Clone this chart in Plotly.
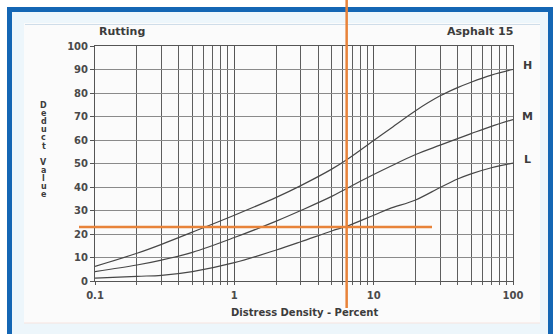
import plotly.graph_objects as go

# Distress density (percent) and deduct values for the three severity levels
density = [0.1, 0.2, 0.3, 0.5, 1, 2, 3, 5, 6.4, 10, 13, 20, 30, 40, 50, 70, 100]
high = [6.2, 11.8, 15.6, 20.8, 28.0, 35.6, 40.6, 47.6, 51.6, 59.8, 64.6, 72.5, 78.8, 82.3, 84.6, 87.6, 90.0]
medium = [4.0, 6.8, 8.9, 12.2, 18.5, 25.5, 30.0, 36.0, 39.4, 45.3, 48.6, 53.8, 57.8, 60.6, 62.7, 65.8, 68.7]
low = [1.2, 2.0, 2.4, 4.0, 7.8, 13.2, 16.7, 21.3, 23.3, 28.0, 30.8, 34.5, 39.8, 43.4, 45.6, 48.2, 50.2]
severity_labels = ["H", "M", "L"]

# Worked example read-off: density and resulting deduct value
pick_density = 6.4
pick_deduct = 23

x_ticks = [0.1, 1, 10, 100]
x_tick_text = ["0.1", "1", "10", "100"]
x_minor = [m * d for d in (0.1, 1, 10) for m in range(2, 10)]

W, H = 553, 334
L_M, R_M, T_M, B_M = 95, 40, 46, 53
PW, PH = W - L_M - R_M, H - T_M - B_M


def px_x(px):
    return (px - L_M) / PW


def px_y(py):
    return (H - B_M - py) / PH


TXT = "#3c3c3c"
FONT = "DejaVu Sans"
CURVE = "#474747"
ORANGE = "#e8833a"
BLUE = "#1466b4"

fig = go.Figure()
for ys in (high, medium, low):
    fig.add_trace(go.Scatter(
        x=density, y=ys, mode="lines",
        line=dict(color=CURVE, width=1.2, shape="spline", smoothing=1.0),
        showlegend=False, hoverinfo="skip",
    ))

shapes = [
    # light tinted area inside the frame
    dict(type="rect", xref="paper", yref="paper", x0=px_x(12), x1=px_x(548),
         y0=px_y(334), y1=px_y(12), fillcolor="#edf6fb", line=dict(width=0), layer="below"),
    # inner sheet
    dict(type="rect", xref="paper", yref="paper", x0=px_x(24), x1=px_x(540),
         y0=px_y(323), y1=px_y(23), fillcolor="#fbfbfb", line=dict(width=0), layer="below"),
    dict(type="line", xref="paper", yref="paper", x0=px_x(25), x1=px_x(540),
         y0=px_y(24.5), y1=px_y(24.5), line=dict(color="#cfdde9", width=1), layer="below"),
    dict(type="line", xref="paper", yref="paper", x0=px_x(24), x1=px_x(540),
         y0=px_y(323), y1=px_y(323), line=dict(color="#f6e3df", width=1), layer="below"),
    # blue frame
    dict(type="rect", xref="paper", yref="paper", x0=px_x(7), x1=px_x(553),
         y0=px_y(12), y1=px_y(7), fillcolor=BLUE, line=dict(width=0)),
    dict(type="rect", xref="paper", yref="paper", x0=px_x(7), x1=px_x(12),
         y0=px_y(334), y1=px_y(7), fillcolor=BLUE, line=dict(width=0)),
    dict(type="rect", xref="paper", yref="paper", x0=px_x(548), x1=px_x(553),
         y0=px_y(334), y1=px_y(7), fillcolor=BLUE, line=dict(width=0)),
    # orange read-off lines
    dict(type="line", xref="x", yref="paper", x0=pick_density, x1=pick_density,
         y0=px_y(308), y1=px_y(0), line=dict(color=ORANGE, width=2.5)),
    dict(type="line", xref="paper", yref="y", x0=px_x(79), x1=px_x(432),
         y0=pick_deduct, y1=pick_deduct, line=dict(color=ORANGE, width=2.5)),
]

annotations = [
    dict(text="<b>Rutting</b>", xref="paper", yref="paper", x=px_x(97), y=px_y(31),
         xanchor="left", yanchor="middle", showarrow=False, font=dict(family=FONT, size=11, color=TXT)),
    dict(text="<b>Asphalt 15</b>", xref="paper", yref="paper", x=px_x(515), y=px_y(31),
         xanchor="right", yanchor="middle", showarrow=False, font=dict(family=FONT, size=11, color=TXT)),
    dict(text="<b>Distress Density - Percent</b>", xref="paper", yref="paper", x=px_x(304), y=px_y(312),
         xanchor="center", yanchor="middle", showarrow=False, font=dict(family=FONT, size=10, color=TXT)),
]

# severity labels at the right end of each curve
for lab, ys in zip(severity_labels, (high, medium, low)):
    annotations.append(dict(
        text="<b>%s</b>" % lab, xref="paper", yref="y", x=px_x(527), y=ys[-1] + 1.5,
        xanchor="center", yanchor="middle", showarrow=False,
        font=dict(family=FONT, size=11, color=TXT)))

# stacked vertical axis title
for word, top in (("Deduct", 105), ("Value", 162)):
    for i, ch in enumerate(word):
        annotations.append(dict(
            text="<b>%s</b>" % ch, xref="paper", yref="paper", x=px_x(43.5), y=px_y(top + 8.2 * i),
            xanchor="center", yanchor="middle", showarrow=False,
            font=dict(family=FONT, size=8, color=TXT)))

fig.update_layout(
    width=W, height=H,
    margin=dict(l=L_M, r=R_M, t=T_M, b=B_M),
    paper_bgcolor="white", plot_bgcolor="rgba(0,0,0,0)",
    shapes=shapes, annotations=annotations,
    xaxis=dict(
        type="log", range=[-1, 2], tickvals=x_ticks, ticktext=x_tick_text,
        showgrid=True, gridcolor="#555555", gridwidth=1,
        minor=dict(tickvals=x_minor, showgrid=True, gridcolor="#5e5e5e", gridwidth=1,
                   ticks="outside", ticklen=3, tickcolor="#5e5e5e"),
        showline=True, linecolor="#555555", linewidth=1, mirror=True,
        ticks="outside", ticklen=3, tickcolor="#555555", ticklabelstandoff=2, zeroline=False,
        tickfont=dict(family=FONT, size=10, color="#4a4a4a", weight="bold"),
    ),
    yaxis=dict(
        range=[0, 100], dtick=10, showgrid=True, gridcolor="#8a8a8a", gridwidth=1,
        showline=True, linecolor="#555555", linewidth=1, mirror=True,
        ticks="outside", ticklen=4, tickcolor="#555555", zeroline=False,
        tickfont=dict(family=FONT, size=10, color="#4a4a4a", weight="bold"),
    ),
)

fig.write_html("out.html")
